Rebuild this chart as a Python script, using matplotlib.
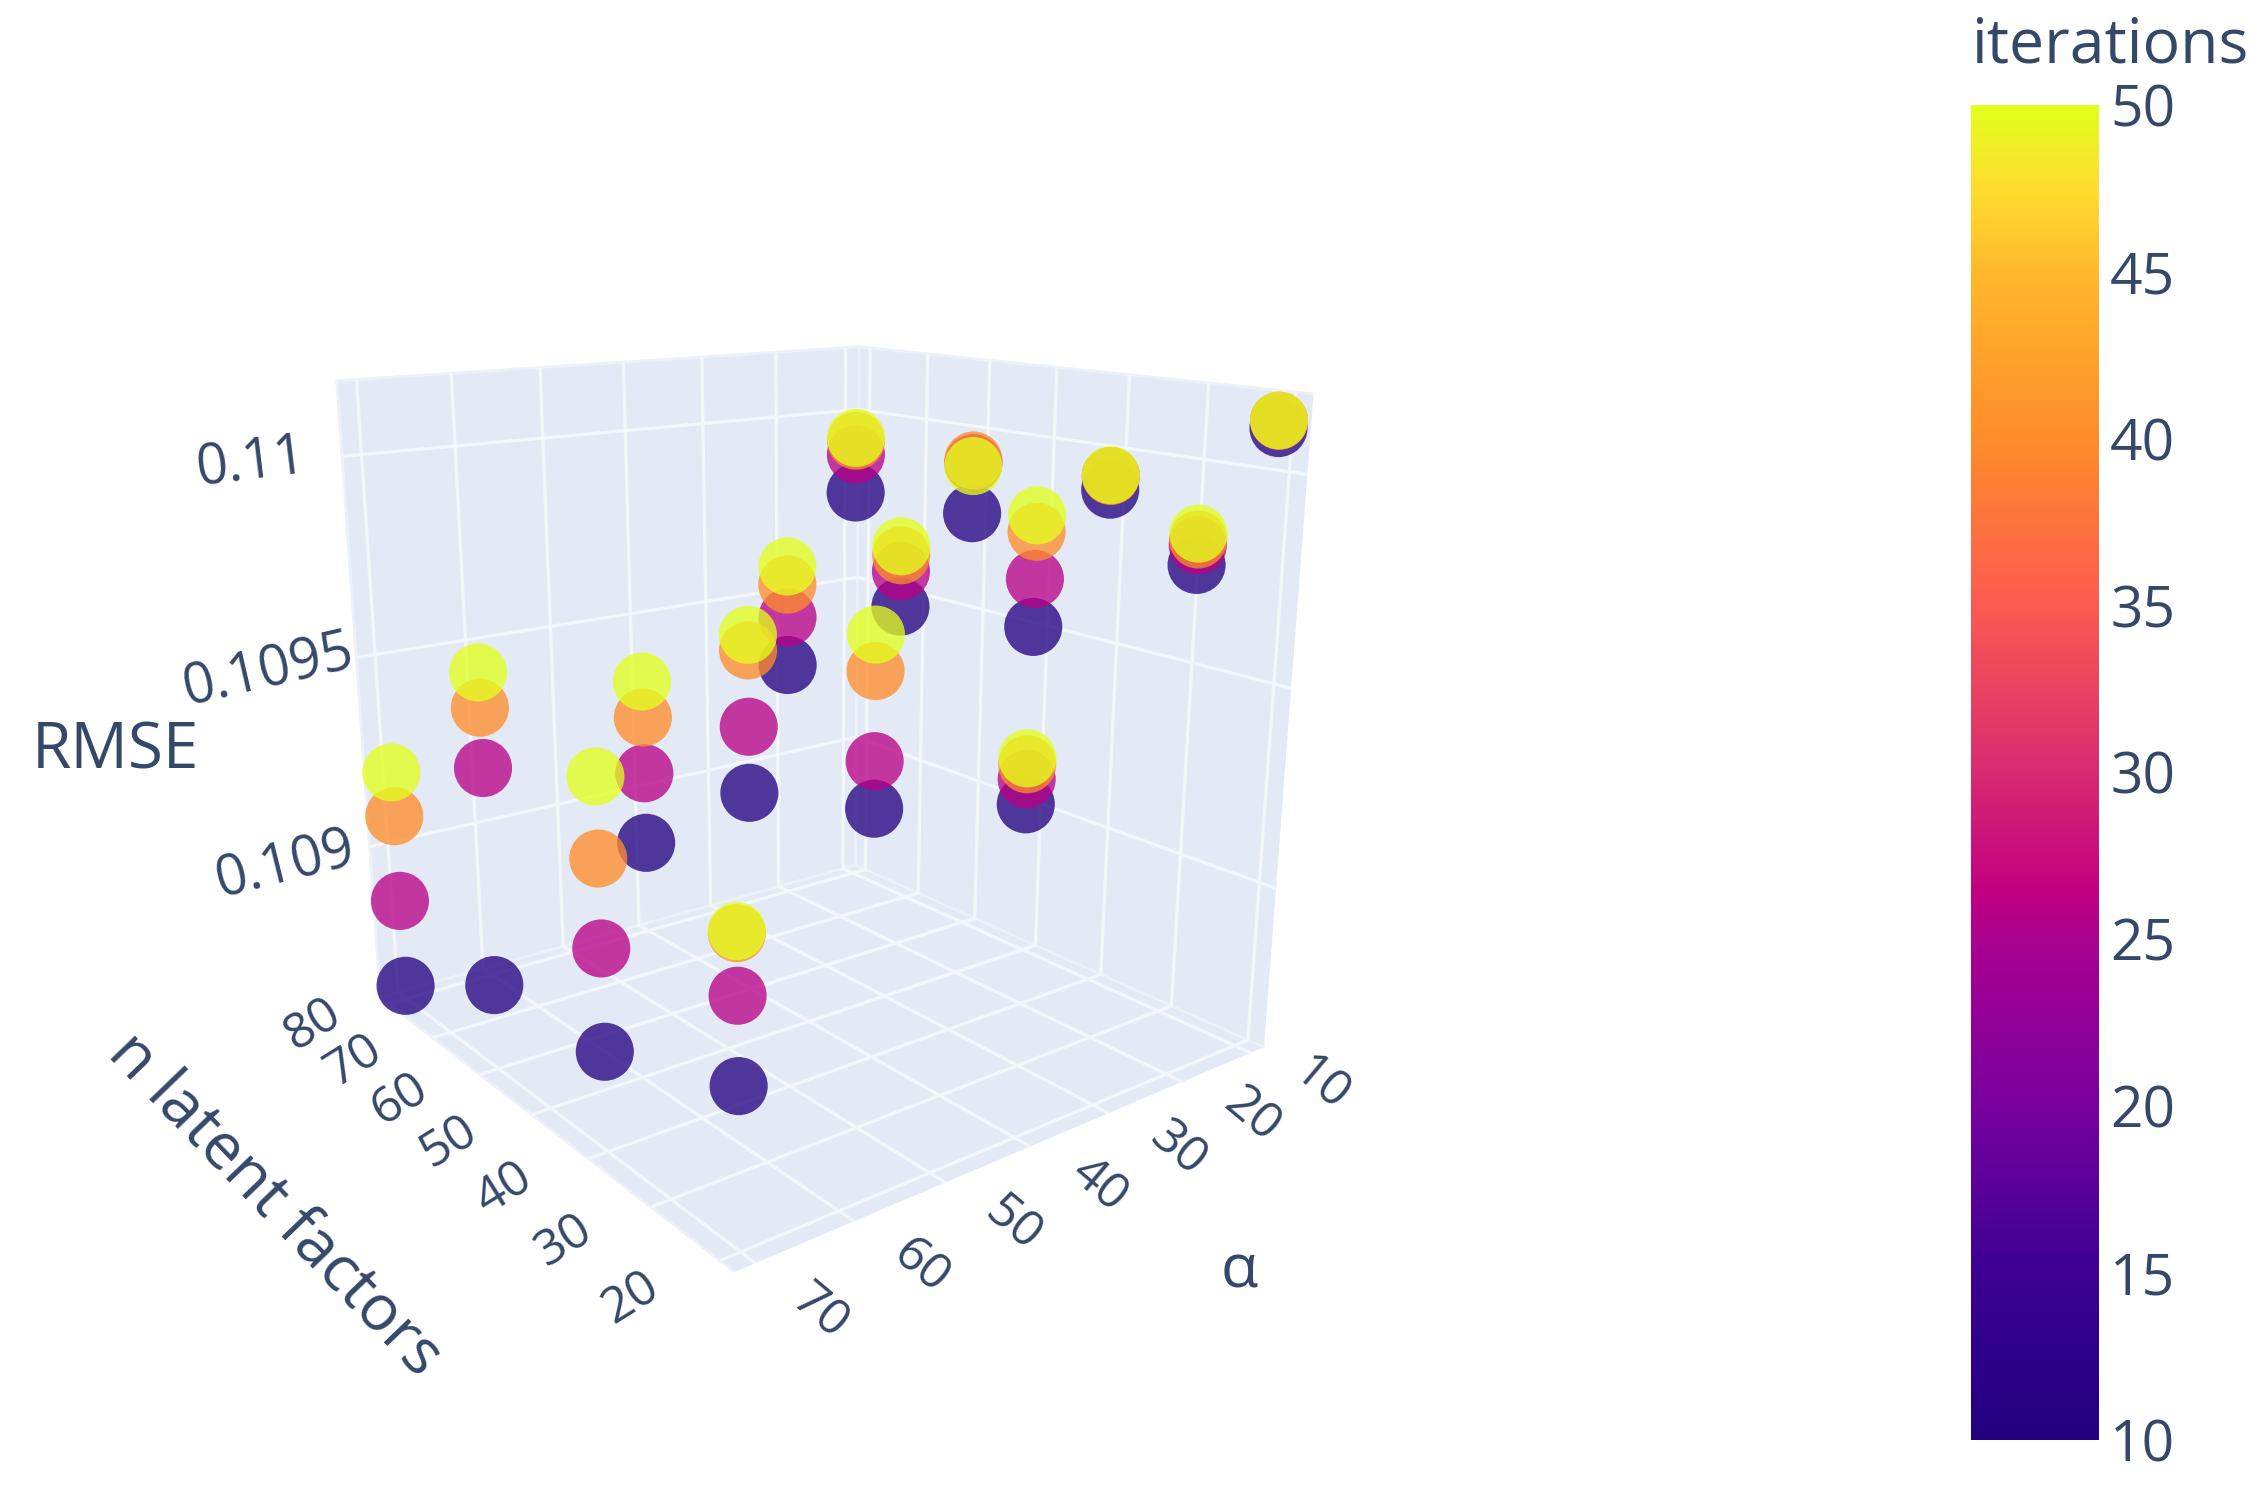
import numpy as np
import matplotlib
matplotlib.use("Agg")
import matplotlib.pyplot as plt
from matplotlib.cm import ScalarMappable
from matplotlib.colors import LinearSegmentedColormap, Normalize
from mpl_toolkits.mplot3d import proj3d

plt.rcParams["font.family"] = ["Open Sans", "DejaVu Sans"]

W, H = 2259, 1488
TEXT = "#34496a"

# -----------------------------
# Data
# -----------------------------
alpha = [70] * 4 + [40] * 4 + [20] * 4 + [10] * 4
n_factors = [20, 40, 60, 80] * 4
iteration_levels = [10, 26, 40, 50]
rmse_10 = [0.108946, 0.108822, 0.108799, 0.108617,
           0.109367, 0.109221, 0.109128, 0.108847,
           0.109821, 0.109587, 0.109549, 0.109286,
           0.110103, 0.109901, 0.109774, 0.109767]
rmse_26 = [0.109137, 0.109064, 0.109341, 0.108855,
           0.109423, 0.109338, 0.109305, 0.109053,
           0.109865, 0.109707, 0.109645, 0.109428,
           0.110119, 0.109935, 0.109910, 0.109878]
rmse_40 = [0.109266, 0.109268, 0.109485, 0.109086,
           0.109456, 0.109555, 0.109505, 0.109215,
           0.109878, 0.109823, 0.109688, 0.109525,
           0.110119, 0.109935, 0.109917, 0.109918]
rmse_50 = [0.109270, 0.109449, 0.109568, 0.109203,
           0.109469, 0.109641, 0.109545, 0.109318,
           0.109891, 0.109863, 0.109712, 0.109578,
           0.110120, 0.109937, 0.109902, 0.109926]
rmse_by_level = [rmse_10, rmse_26, rmse_40, rmse_50]

alpha_ticks = [10, 20, 30, 40, 50, 60, 70]
n_ticks = [20, 30, 40, 50, 60, 70, 80]
rmse_ticks = [0.109, 0.1095, 0.11]
rmse_tick_labels = ["0.109", "0.1095", "0.11"]
rmse_tick_rot = [14, 13, 7]
cbar_ticks = [10, 15, 20, 25, 30, 35, 40, 45, 50]

# colour bar as it looks in the picture
cbar_stops = [10, 15, 20, 25, 26.5, 30, 35, 40, 45, 47.5, 50]
cbar_colors = ["#220080", "#3c0092", "#78009f", "#aa008f", "#c2007f", "#d82a72",
               "#fb5a50", "#ff8c2a", "#ffb82c", "#ffdc30", "#e2ff1c"]
norm = Normalize(10, 50)
cmap = LinearSegmentedColormap.from_list(
    "bar", [(norm(v), c) for v, c in zip(cbar_stops, cbar_colors)], N=512)

n_lim = (18, 82)
alpha_lim = (8, 72)
rmse_lim = (0.10858, 0.11018)

fig = plt.figure(figsize=(W / 100, H / 100), dpi=100)

# ---- 3D scatter, camera fitted to the box corners
ax = fig.add_axes([238.9 / W, 197.8 / H, 1110.1 / W, 1110.1 / H],
                  projection="3d", computed_zorder=False)
ax.set_proj_type("persp", focal_length=0.3055)
ax.view_init(elev=16.158, azim=142.37)
ax.set_box_aspect((1, 1, 0.9969))
ax.set_xlim(*n_lim, view_margin=0)
ax.set_ylim(*alpha_lim, view_margin=0)
ax.set_zlim(*rmse_lim, view_margin=0)
ax.set_xticks(n_ticks)
ax.set_yticks(alpha_ticks)
ax.set_zticks(rmse_ticks)
ax.patch.set_visible(False)

for axis in (ax.xaxis, ax.yaxis, ax.zaxis):
    axis.set_pane_color("#e3eaf6")
    axis.pane.set_edgecolor("#edf1f9")
    axis.pane.set_linewidth(2)
    axis.line.set_color((1, 1, 1, 0))
    axis.set_tick_params(label1On=False)
    axis._axinfo["grid"].update(color="#f3f6fb", linewidth=2.4)
    axis._axinfo["tick"].update(inward_factor=0, outward_factor=0)

for i, (level, rmse) in enumerate(zip(iteration_levels, rmse_by_level)):
    ax.scatter(n_factors, alpha, rmse, c=[level] * len(rmse), cmap=cmap, norm=norm,
               s=1750, alpha=0.77, linewidths=0, depthshade=False, zorder=5 + i)


def label3d(x, y, z, s, rot, size):
    # mplot3d drops rotation on its own text, so place it in 2D at the projected point
    xp, yp, _ = proj3d.proj_transform(x, y, z, ax.get_proj())
    ax.text2D(xp, yp, s, transform=ax.transData, rotation=rot, color=TEXT, fontsize=size,
              ha="center", va="center", rotation_mode="anchor")


# ---- tick labels sit just outside the floor edges
for v in alpha_ticks:
    label3d(n_lim[0] - 8.3, v, rmse_lim[0], str(v), -40, 36)
for v in n_ticks:
    label3d(v, alpha_lim[1] + 8.3, rmse_lim[0], str(v), 32, 36)
for v, s, r in zip(rmse_ticks, rmse_tick_labels, rmse_tick_rot):
    label3d(n_lim[1], alpha_lim[1] + 9, v, s, r, 40)

fig.text(115 / W, 1 - 751 / H, "RMSE", color=TEXT, fontsize=46, ha="center", va="center")
fig.text(275 / W, 1 - 1205 / H, "n latent factors", color=TEXT, fontsize=46,
         rotation=-46, rotation_mode="anchor", ha="center", va="center")
fig.text(1239 / W, 1 - 1271 / H, "α", color=TEXT, fontsize=44, ha="center", va="center")

# ---- colour bar
cax = fig.add_axes([1971 / W, 1 - 1440 / H, 128 / W, 1335 / H])
cb = fig.colorbar(ScalarMappable(norm=norm, cmap=cmap), cax=cax)
cb.set_ticks(cbar_ticks)
cb.outline.set_visible(False)
cax.tick_params(length=0, pad=8, labelsize=41, labelcolor=TEXT)
fig.text(1971 / W, 1 - 46 / H, "iterations", color=TEXT, fontsize=45, ha="left", va="center")

fig.savefig("out.png", dpi=100)
